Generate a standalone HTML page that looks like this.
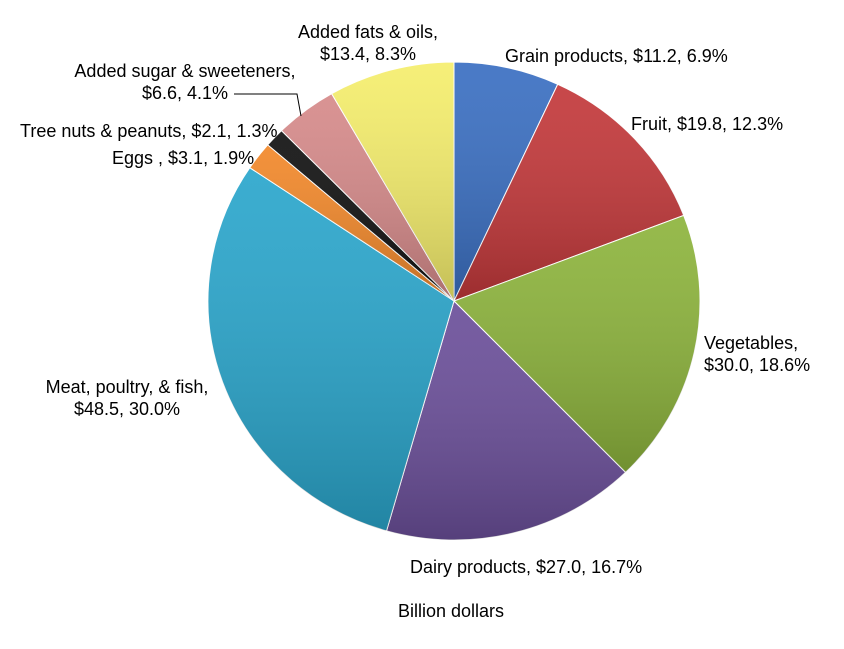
<!DOCTYPE html>
<html><head><meta charset="utf-8"><style>
body{margin:0;background:#fff;}
svg text{font-family:"Liberation Sans",sans-serif;font-size:18px;fill:#000;}
</style></head><body>
<svg id="chart" width="844" height="644" viewBox="0 0 844 644" xmlns="http://www.w3.org/2000/svg">
<defs>
<linearGradient id="shade" x1="0" y1="0" x2="0" y2="1">
<stop offset="0" stop-color="#fff" stop-opacity="0.08"/>
<stop offset="1" stop-color="#000" stop-opacity="0.2"/>
</linearGradient>
</defs>
<g id="slices"></g>
<g id="labels"></g>
<polyline points="234,94 297,94 301,116" fill="none" stroke="#000" stroke-width="1"/>
<text x="451" y="617" text-anchor="middle">Billion dollars</text>
</svg>
<script>
const categories=["Grain products","Fruit","Vegetables","Dairy products","Meat, poultry, & fish","Eggs ","Tree nuts & peanuts","Added sugar & sweeteners","Added fats & oils"];
const values=[11.2,19.8,30.0,27.0,48.5,3.1,2.1,6.6,13.4];
const percents=["6.9%","12.3%","18.6%","16.7%","30.0%","1.9%","1.3%","4.1%","8.3%"];
const colors=["#3a6fc2","#c3383a","#8db43c","#6b4f9a","#2aa6cc","#f2882a","#111111","#d68a8a","#f5ee6c"];
const cx=454,cy=301,rx=246,ry=239;
const total=values.reduce((a,b)=>a+b,0);
const ns="http://www.w3.org/2000/svg";
const gS=document.getElementById('slices');
let a0=0;
function pt(a){return [cx+rx*Math.sin(a),cy-ry*Math.cos(a)];}
values.forEach((v,i)=>{
  const a1=a0+v/total*2*Math.PI;
  const p0=pt(a0),p1=pt(a1);
  const large=(a1-a0)>Math.PI?1:0;
  const d=`M${cx},${cy}L${p0[0]},${p0[1]}A${rx},${ry} 0 ${large} 1 ${p1[0]},${p1[1]}Z`;
  const p=document.createElementNS(ns,'path');
  p.setAttribute('d',d);p.setAttribute('fill',colors[i]);
  p.setAttribute('stroke','#fff');p.setAttribute('stroke-width','1');
  
  
  gS.appendChild(p);
  const s=document.createElementNS(ns,'path');
  s.setAttribute('d',d);s.setAttribute('fill','url(#shade)');
  
  
  gS.appendChild(s);
  a0=a1;
});
const layout=[
 [[categories[0]+", $"+values[0].toFixed(1)+", "+percents[0]],505,62,"start"],
 [[categories[1]+", $"+values[1].toFixed(1)+", "+percents[1]],631,130,"start"],
 [[categories[2]+",","$"+values[2].toFixed(1)+", "+percents[2]],704,349,"start"],
 [[categories[3]+", $"+values[3].toFixed(1)+", "+percents[3]],410,573,"start"],
 [[categories[4]+",","$"+values[4].toFixed(1)+", "+percents[4]],127,393,"middle"],
 [[categories[5]+", $"+values[5].toFixed(1)+", "+percents[5]],112,164,"start"],
 [[categories[6]+", $"+values[6].toFixed(1)+", "+percents[6]],20,137,"start"],
 [[categories[7]+",","$"+values[7].toFixed(1)+", "+percents[7]],185,77,"middle"],
 [[categories[8]+",","$"+values[8].toFixed(1)+", "+percents[8]],368,38,"middle"]
];
const gL=document.getElementById('labels');
layout.forEach((l,i)=>{
  const t=document.createElementNS(ns,'text');
  t.setAttribute('x',l[1]);t.setAttribute('y',l[2]);t.setAttribute('text-anchor',l[3]);
  
  
  l[0].forEach((line,j)=>{
    const ts=document.createElementNS(ns,'tspan');
    ts.setAttribute('x',l[1]);ts.setAttribute('dy',j?22:0);
    ts.textContent=line;t.appendChild(ts);
  });
  gL.appendChild(t);
});
</script>
</body></html>
